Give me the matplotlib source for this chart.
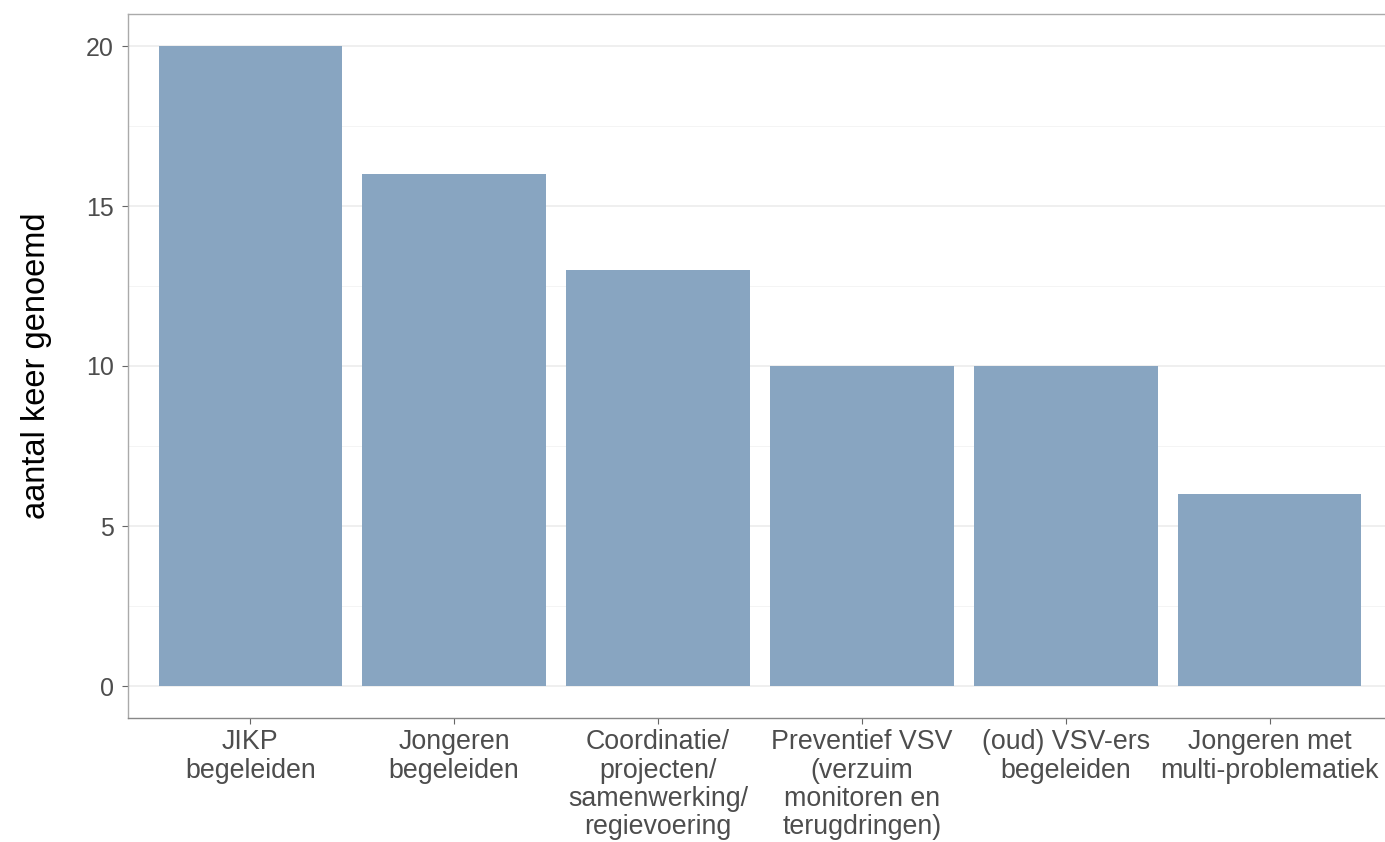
import matplotlib
matplotlib.use("Agg")
import matplotlib.pyplot as plt
import numpy as np

categories = ["JIKP\nbegeleiden", "Jongeren\nbegeleiden",
              "Coordinatie/\nprojecten/\nsamenwerking/\nregievoering",
              "Preventief VSV\n(verzuim\nmonitoren en\nterugdringen)",
              "(oud) VSV-ers\nbegeleiden", "Jongeren met\nmulti-problematiek"]
values = [20, 16, 13, 10, 10, 6]
yticks = [0, 5, 10, 15, 20]

plt.rcParams['font.family'] = ['Liberation Sans', 'DejaVu Sans']
fig = plt.figure(figsize=(13.85, 8.42), dpi=100)
W, H = 1385, 842
left_px, right_px, top_px, bot_px = 128, 1392, 14, 718
ax = fig.add_axes([left_px / W, 1 - bot_px / H, (right_px - left_px) / W, (bot_px - top_px) / H])

x = np.arange(1, len(values) + 1)
ax.bar(x, values, width=0.9, color="#88A5C1", zorder=3)
ax.set_xlim(0.4, 6.6)
ax.set_ylim(-1, 21)
ax.set_yticks(yticks)
ax.set_yticks([2.5, 7.5, 12.5, 17.5], minor=True)
ax.set_xticks(x)
ax.set_xticklabels(categories, fontsize=19.3, color="#4D4D4D", linespacing=1.12)
ax.tick_params(axis='y', labelsize=18, labelcolor="#4D4D4D", length=4, color="#666666", pad=6)
ax.tick_params(axis='y', which='minor', length=0)
ax.tick_params(axis='x', length=4, color="#666666", pad=4)
ax.grid(axis='y', which='major', color="#EBEBEB", linewidth=1.1, zorder=0)
ax.grid(axis='y', which='minor', color="#F2F2F2", linewidth=0.6, zorder=0)
for s in ['left', 'bottom', 'top', 'right']:
    ax.spines[s].set_color("#AAAAAA")
    ax.spines[s].set_linewidth(1.0)
ax.spines['bottom'].set_color("#888888")
ax.set_ylabel("aantal keer genoemd", fontsize=23.5, color="black")
ax.yaxis.set_label_coords(-76 / (right_px - left_px), 0.5)
fig.savefig("out.png", dpi=100)
